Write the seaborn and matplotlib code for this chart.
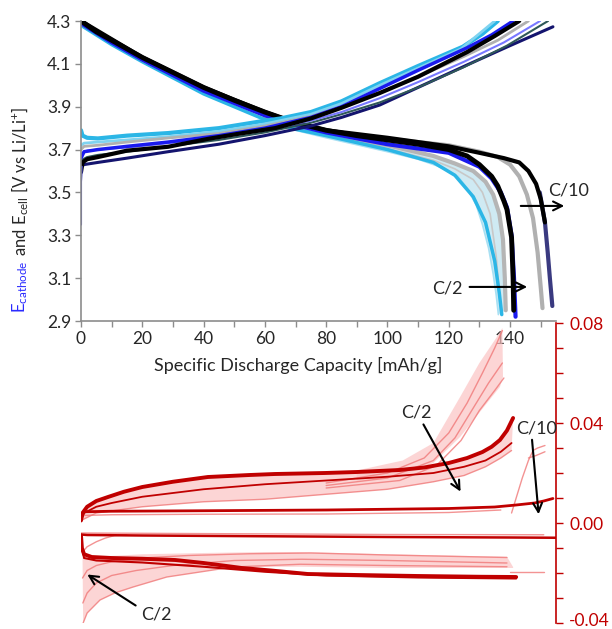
"""Cathode / cell potential vs capacity (top) and difference curves (bottom)."""

import matplotlib
matplotlib.use("Agg")

import matplotlib.pyplot as plt
import seaborn as sns
from matplotlib.ticker import MultipleLocator, FormatStrFormatter

sns.set_theme(style="white")
plt.rcParams["font.family"] = ["Lato", "DejaVu Sans"]
plt.rcParams["mathtext.default"] = "regular"

RED = "#c00000"
PINK = "#f07878"
GREY_AX = "#8c8c8c"
TXT = "#262626"

# ---------- top panel: potentials [V] vs capacity [mAh/g] ----------
y_ticks = [2.9, 3.1, 3.3, 3.5, 3.7, 3.9, 4.1, 4.3]
diff_ticks = [-0.04, 0.00, 0.04, 0.08]
diff_labels = ["", "0.00", "0.04", "0.08"]   # -0.04 written by hand, kept inside the figure

# charge curves (rising)
chg_cyan_x = [0, 0.5, 2, 5.5, 15, 28.4, 45, 58, 65, 75, 85, 97.5, 110, 124.6, 131, 136]
chg_cyan_y = [3.79, 3.765, 3.755, 3.752, 3.765, 3.777, 3.80, 3.83, 3.845, 3.875, 3.925, 4.01, 4.09, 4.18, 4.24, 4.30]
chg_cyan2_x = [0, 1, 5.5, 15, 28.4, 45, 60, 75, 85, 97.5, 110, 124, 135]
chg_cyan2_y = [3.72, 3.73, 3.735, 3.745, 3.76, 3.785, 3.82, 3.865, 3.915, 4.0, 4.08, 4.17, 4.30]
chg_gray_x = [0, 1, 5.5, 15, 28.4, 45, 60, 75, 85, 97.5, 110, 125, 136, 146]
chg_gray_y = [3.70, 3.715, 3.72, 3.735, 3.754, 3.775, 3.81, 3.855, 3.90, 3.965, 4.04, 4.135, 4.21, 4.30]
chg_blue_x = [0, 1, 5.5, 15, 28.4, 45, 60, 75, 85, 97.5, 110, 126, 134, 141]
chg_blue_y = [3.66, 3.69, 3.70, 3.715, 3.735, 3.765, 3.80, 3.85, 3.90, 3.985, 4.07, 4.175, 4.235, 4.30]
chg_black_x = [0, 0.5, 2, 5.5, 15, 28.4, 41.5, 52, 63.3, 75, 85, 97.5, 110, 126, 135, 143]
chg_black_y = [3.595, 3.64, 3.655, 3.665, 3.695, 3.713, 3.75, 3.775, 3.80, 3.845, 3.895, 3.964, 4.04, 4.155, 4.23, 4.30]
chg_lav_x = [0, 2, 5.5, 15, 28.4, 45, 60, 75, 85, 97.5, 110, 125, 138, 149.8]
chg_lav_y = [3.68, 3.695, 3.70, 3.71, 3.73, 3.76, 3.79, 3.835, 3.875, 3.94, 4.015, 4.11, 4.20, 4.30]
chg_teal_x = [0, 2, 5.5, 15, 28.4, 45, 60, 75, 85, 97.5, 110, 125, 139, 152.4]
chg_teal_y = [3.65, 3.665, 3.675, 3.69, 3.715, 3.745, 3.78, 3.825, 3.865, 3.92, 3.99, 4.085, 4.185, 4.30]
chg_navy_x = [0, 1, 5.5, 15, 28.4, 45, 60, 75, 85, 97.5, 110, 126, 140, 154]
chg_navy_y = [3.62, 3.63, 3.64, 3.66, 3.69, 3.725, 3.765, 3.81, 3.85, 3.908, 3.99, 4.095, 4.185, 4.273]
spike_x = [0, 0, 0.3]
spike_y = [3.35, 3.55, 3.62]

# discharge curves (falling)
dis_black_x = [0, 5, 10, 20, 30, 40, 50, 60, 70, 80, 90, 100, 110, 120, 126, 130, 134, 136, 138, 139, 140.5, 141, 141.2]
dis_black_y = [4.30, 4.25, 4.21, 4.13, 4.06, 3.99, 3.93, 3.875, 3.825, 3.79, 3.765, 3.745, 3.725, 3.70, 3.67, 3.63, 3.575, 3.53, 3.46, 3.42, 3.29, 3.10, 2.95]
dis_blue_x = [0, 10, 20, 40, 60, 70, 80, 100, 120, 130, 134, 137, 139, 140.5, 141.3, 141.8]
dis_blue_y = [4.29, 4.20, 4.12, 3.975, 3.86, 3.815, 3.78, 3.725, 3.685, 3.62, 3.565, 3.50, 3.43, 3.30, 3.10, 2.92]
dis_cyan_x = [0, 10, 20, 40, 60, 70, 80, 100, 115, 122, 128, 132, 135, 136.5, 137.3]
dis_cyan_y = [4.28, 4.19, 4.11, 3.96, 3.84, 3.795, 3.765, 3.70, 3.64, 3.58, 3.48, 3.36, 3.18, 3.03, 2.93]
fan_lo_x = [60, 70, 80, 100, 110, 116, 120, 123, 126, 129, 131, 133, 134.5, 135.5, 136.2]
fan_lo_y = [3.84, 3.79, 3.755, 3.69, 3.655, 3.625, 3.60, 3.575, 3.52, 3.44, 3.35, 3.24, 3.12, 3.02, 2.93]
fan_mid_x = [60, 80, 100, 115, 122, 128, 131, 133.5, 135.5, 137]
fan_mid_y = [3.845, 3.765, 3.705, 3.65, 3.61, 3.56, 3.50, 3.40, 3.20, 2.95]
fan_hi_x = [60, 80, 100, 115, 122, 128, 132, 134.5, 136.5, 137.7, 138.3, 138.6]
fan_hi_y = [3.85, 3.77, 3.72, 3.67, 3.635, 3.60, 3.55, 3.49, 3.40, 3.28, 3.10, 2.95]
dis_gray2_x = [0, 20, 40, 60, 80, 100, 120, 130, 136, 140, 143, 145.5, 147.5, 149, 150, 150.6]
dis_gray2_y = [4.29, 4.12, 3.98, 3.86, 3.785, 3.75, 3.72, 3.69, 3.665, 3.63, 3.575, 3.49, 3.38, 3.22, 3.06, 2.96]
dis_black2_x = [0, 20, 40, 60, 70, 80, 100, 120, 130, 138, 143, 146, 148.5, 150, 151.4]
dis_black2_y = [4.30, 4.13, 3.99, 3.875, 3.825, 3.79, 3.755, 3.715, 3.685, 3.66, 3.64, 3.60, 3.54, 3.47, 3.36]
dis_navy_x = [149.7, 151.4, 152.3, 153, 153.5, 153.8]
dis_navy_y = [3.50, 3.36, 3.22, 3.10, 3.02, 2.97]

# ---------- bottom panel: difference curves ----------
up_thick_x = [0, 0.5, 2, 5, 8.8, 14, 20, 30, 41.4, 55, 63.3, 79.6, 90, 104, 112, 120, 126, 131, 134, 136.7, 139, 141]
up_thick_y = [0.001, 0.004, 0.0065, 0.0088, 0.0104, 0.0125, 0.0144, 0.0165, 0.0184, 0.0192, 0.0196, 0.0200, 0.0204, 0.0212, 0.0222, 0.024, 0.026, 0.0284, 0.0305, 0.0332, 0.037, 0.042]
up_second_x = [0, 1, 5, 10, 20, 40, 60, 80, 100, 115, 125, 132, 137, 140.5]
up_second_y = [0.001, 0.004, 0.0065, 0.008, 0.0105, 0.0135, 0.0155, 0.017, 0.0185, 0.020, 0.0225, 0.025, 0.0285, 0.032]
up_fan_lo_x = [0, 5, 20, 40, 60, 80, 100, 115, 125, 132, 137, 140.5]
up_fan_lo_y = [0.001, 0.004, 0.0065, 0.0085, 0.0095, 0.0115, 0.0135, 0.0165, 0.019, 0.0225, 0.026, 0.029]
steep_hi_x = [90, 105, 115, 123.7, 130, 135.7, 137.5]
steep_hi_y = [0.021, 0.025, 0.032, 0.0504, 0.064, 0.0744, 0.078]
steep_lo_x = [137.7, 136.7, 132.5, 123.7, 115, 104, 90]
steep_lo_y = [0.0584, 0.0544, 0.048, 0.0344, 0.024, 0.0184, 0.017]
steep1_x = [80, 100, 112, 120, 126, 131, 135, 137.5]
steep1_y = [0.016, 0.020, 0.026, 0.036, 0.048, 0.060, 0.070, 0.077]
steep2_x = [80, 100, 115, 122, 128, 133, 137.5]
steep2_y = [0.015, 0.018, 0.025, 0.034, 0.046, 0.056, 0.064]
steep3_x = [80, 104, 116, 124, 130, 135, 138]
steep3_y = [0.014, 0.017, 0.023, 0.033, 0.045, 0.053, 0.058]
c10a_x = [140.5, 142, 144, 146, 147.5, 149, 151.4]
c10a_y = [0.004, 0.010, 0.018, 0.025, 0.029, 0.030, 0.031]
c10b_x = [146, 148.5, 151.4]
c10b_y = [0.026, 0.027, 0.0285]

mid1_x = [0, 1, 10, 40, 80, 120, 135, 142, 148, 151, 154]
mid1_y = [0.002, 0.0045, 0.0047, 0.0049, 0.0052, 0.0058, 0.0064, 0.0072, 0.0080, 0.0088, 0.0098]
mid1b_x = [0, 10, 40, 80, 120, 137]
mid1b_y = [0.003, 0.0033, 0.0035, 0.0036, 0.0042, 0.0052]
mid2_x = [0, 2, 20, 60, 100, 140, 155]
mid2_y = [-0.0046, -0.0048, -0.0050, -0.0053, -0.0056, -0.0058, -0.0059]
mid2b_x = [0, 50, 100, 151]
mid2b_y = [-0.0040, -0.0043, -0.0046, -0.0047]
rise_x = [0.5, 2, 5, 8, 11, 15]
rise_y = [-0.0116, -0.0095, -0.0075, -0.0060, -0.0050, -0.0048]

lo_thick_x = [0, 0.3, 1, 3.5, 10, 20, 30.7, 40, 52.5, 62, 74, 90, 110, 130, 142]
lo_thick_y = [-0.005, -0.010, -0.0125, -0.0136, -0.014, -0.0143, -0.0148, -0.016, -0.018, -0.019, -0.0204, -0.0208, -0.0212, -0.0215, -0.0216]
lo_second_x = [0, 1, 5, 20, 40, 60, 80, 110, 142]
lo_second_y = [-0.008, -0.014, -0.015, -0.0158, -0.0175, -0.0195, -0.021, -0.0218, -0.0222]
lo_fan_x = [0.5, 5, 20, 40, 60, 71.5, 100, 139, 141,
            141, 120, 100, 71.5, 49.6, 28, 17, 11, 6.2, 2, 0.7]
lo_fan_y = [-0.014, -0.0135, -0.0125, -0.012, -0.0116, -0.0116, -0.0125, -0.0135, -0.0176,
            -0.0180, -0.018, -0.018, -0.0175, -0.0176, -0.0216, -0.0256, -0.028, -0.0308, -0.036, -0.040]
fan1_x = [0.7, 2, 6.2, 11, 17, 28, 49.6, 71.5, 100, 139]
fan1_y = [-0.040, -0.036, -0.0308, -0.028, -0.0256, -0.0216, -0.0176, -0.0165, -0.017, -0.0175]
fan2_x = [0.6, 2, 5, 10, 18, 30, 50, 72, 100, 139]
fan2_y = [-0.032, -0.028, -0.024, -0.021, -0.019, -0.017, -0.015, -0.0145, -0.015, -0.016]
fan3_x = [0.5, 2, 5, 10, 20, 35, 55, 75, 100, 139]
fan3_y = [-0.022, -0.019, -0.017, -0.0155, -0.014, -0.013, -0.0123, -0.012, -0.0128, -0.0138]
lo_ext_x = [140, 151]
lo_ext_y = [-0.0195, -0.0195]


def line(ax, x, y, color, lw, alpha=1.0):
    sns.lineplot(x=x, y=y, color=color, linewidth=lw, alpha=alpha, sort=False,
                 estimator=None, legend=False, ax=ax)


def arrow(ax, tail, head):
    ax.annotate("", xy=head, xytext=tail, annotation_clip=False,
                arrowprops=dict(arrowstyle="->", color="black", lw=1.5, mutation_scale=16))


fig = plt.figure(figsize=(6.12, 6.29), dpi=100)
ax = fig.add_axes([81 / 612, 1 - 321 / 629, 475 / 612, 300 / 629])
axb = fig.add_axes([81 / 612, 1 - 623 / 629, 475 / 612, 300 / 629])
axb.patch.set_alpha(0)

# --- top ---
ax.fill(fan_lo_x + fan_hi_x[::-1], fan_lo_y + fan_hi_y[::-1], color="#c4e5f0", alpha=0.8, lw=0)
line(ax, fan_lo_x, fan_lo_y, "#a8e0f3", 1.2)
line(ax, fan_mid_x, fan_mid_y, "#c8c8c8", 1.2)
line(ax, fan_hi_x, fan_hi_y, "#b5b5b5", 3)
line(ax, dis_cyan_x, dis_cyan_y, "#2bb6e6", 2.5)
line(ax, dis_gray2_x, dis_gray2_y, "#b0b0b0", 3)
line(ax, dis_navy_x, dis_navy_y, "#3a3a80", 3)
line(ax, dis_black2_x, dis_black2_y, "black", 3)
line(ax, dis_blue_x, dis_blue_y, "#1a1aee", 3)
line(ax, dis_black_x, dis_black_y, "black", 3.5)

line(ax, chg_cyan_x, chg_cyan_y, "#2bb6e6", 3)
line(ax, chg_cyan2_x, chg_cyan2_y, "#7fd3f0", 2)
line(ax, chg_gray_x, chg_gray_y, "#b0b0b0", 2)
line(ax, chg_navy_x, chg_navy_y, "#14146e", 2.2)
line(ax, chg_teal_x, chg_teal_y, "#2f5858", 1.5)
line(ax, chg_lav_x, chg_lav_y, "#7878ff", 1.5)
line(ax, chg_blue_x, chg_blue_y, "#1a1aee", 2.5)
line(ax, chg_black_x, chg_black_y, "black", 3)
line(ax, spike_x, spike_y, "#4040c0", 1.5)

ax.set_xlim(0, 155)
ax.set_ylim(2.9, 4.3)
ax.xaxis.set_major_locator(MultipleLocator(20))
ax.xaxis.set_minor_locator(MultipleLocator(10))
ax.set_yticks(y_ticks)
ax.yaxis.set_major_formatter(FormatStrFormatter("%.1f"))
for s in ["top", "right"]:
    ax.spines[s].set_visible(False)
for s in ["left", "bottom"]:
    ax.spines[s].set_color(GREY_AX)
    ax.spines[s].set_linewidth(1.2)
ax.tick_params(which="both", direction="out", length=4, width=1, color=GREY_AX,
               labelsize=12.5, labelcolor=TXT, pad=3)
ax.tick_params(axis="x", which="both", bottom=True)
ax.tick_params(axis="y", which="both", left=True)
ax.set_xlabel("Specific Discharge Capacity [mAh/g]", fontsize=13, color=TXT)
ax.xaxis.set_label_coords((298 - 81) / 475, -0.12)

ax.text(159.2, 3.51, "C/10", fontsize=13, color=TXT, ha="center", va="center")
arrow(ax, (142.6, 3.437), (158.6, 3.437))
ax.text(119.7, 3.054, "C/2", fontsize=13, color=TXT, ha="center", va="center")
arrow(ax, (125.9, 3.059), (146.5, 3.059))

# --- bottom ---
axb.fill(steep_hi_x + steep_lo_x, steep_hi_y + steep_lo_y, color="#fbc4c4", alpha=0.7, lw=0)
axb.fill(up_thick_x + up_fan_lo_x[::-1], up_thick_y + up_fan_lo_y[::-1], color="#fbc4c4", alpha=0.7, lw=0)
axb.fill(lo_fan_x, lo_fan_y, color="#fbc4c4", alpha=0.7, lw=0)
for xs, ys in [(steep1_x, steep1_y), (steep2_x, steep2_y), (steep3_x, steep3_y),
               (up_fan_lo_x, up_fan_lo_y), (fan1_x, fan1_y), (fan2_x, fan2_y),
               (fan3_x, fan3_y), (c10a_x, c10a_y), (c10b_x, c10b_y), (rise_x, rise_y),
               (mid1b_x, mid1b_y), (mid2b_x, mid2b_y), (lo_ext_x, lo_ext_y)]:
    line(axb, xs, ys, PINK, 1, alpha=0.8)
line(axb, up_second_x, up_second_y, RED, 1.3)
line(axb, up_thick_x, up_thick_y, RED, 2.8)
line(axb, mid1_x, mid1_y, RED, 2)
line(axb, mid2_x, mid2_y, RED, 1.8)
line(axb, lo_second_x, lo_second_y, RED, 1.5)
line(axb, lo_thick_x, lo_thick_y, RED, 2.8)

axb.set_xlim(0, 155)
axb.set_ylim(-0.04, 0.08)
axb.yaxis.tick_right()
axb.set_yticks(diff_ticks, diff_labels)
axb.yaxis.set_minor_locator(MultipleLocator(0.01))
for s in ["top", "left", "bottom"]:
    axb.spines[s].set_visible(False)
axb.spines["right"].set_color(RED)
axb.spines["right"].set_linewidth(1.2)
axb.set_xticks([])
axb.tick_params(axis="y", which="both", direction="out", length=5, width=1, color=RED,
                labelsize=12.5, labelcolor=RED, right=True, pad=5)
# lowest label sits on the figure edge; place it so it stays inside
axb.annotate("-0.04", xy=(1, diff_ticks[0]), xycoords=("axes fraction", "data"),
             xytext=(9, -4), textcoords="offset points", fontsize=12.5, color=RED,
             ha="left", va="bottom", annotation_clip=False)

axb.text(109.3, 0.044, "C/2", fontsize=13, color=TXT, ha="center", va="center")
arrow(axb, (111.3, 0.0404), (124.3, 0.0116))
axb.text(148.5, 0.038, "C/10", fontsize=13, color=TXT, ha="center", va="center")
arrow(axb, (147.1, 0.0344), (149.4, 0.0024))
axb.text(24.5, -0.0364, "C/2", fontsize=13, color=TXT, ha="center", va="center")
arrow(axb, (18.6, -0.0336), (1.3, -0.020))

# y label: blue E_cathode + black rest
t1 = fig.text(20 / 612, 1 - 313 / 629, "E$_{cathode}$", color="#2a2aff", fontsize=12,
              rotation=90, ha="left", va="center", rotation_mode="anchor")
fig.canvas.draw()
bb = t1.get_window_extent()
fig.text(20 / 612, bb.y1 / fig.bbox.height, " and E$_{cell}$ [V vs Li/Li$^{+}$]", color=TXT,
         fontsize=12, rotation=90, ha="left", va="center", rotation_mode="anchor")

fig.savefig("out.png", dpi=100)
